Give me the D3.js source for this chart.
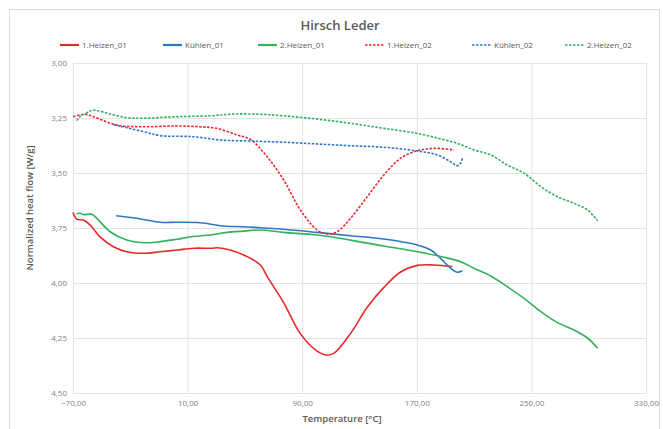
<!DOCTYPE html>
<html>
<head>
<meta charset="utf-8">
<script src="https://cdn.jsdelivr.net/npm/d3@7"></script>
<style>
  body { margin: 0; background: #fff; }
  svg text { font-family: "Open Sans", "Noto Sans", sans-serif; }
</style>
</head>
<body>
<svg id="chart" width="663" height="429"></svg>
<script>
// Series data, [temperature, heat flow]
var heizen1_01 = [[-70,3.68],[-67.4,3.71],[-62.8,3.714],[-58.1,3.736],[-51.1,3.79],[-41.8,3.835],[-32.4,3.858],[-20.8,3.865],[-9.1,3.858],[2.5,3.85],[14.1,3.842],[27,3.842],[30.5,3.84],[37.5,3.847],[49.1,3.873],[60.8,3.918],[65.5,3.97],[77.1,4.09],[88.7,4.23],[100.4,4.31],[106.2,4.327],[112,4.32],[123.7,4.23],[135.4,4.11],[147,4.02],[158.7,3.95],[170.4,3.92],[182,3.918],[194.8,3.925]];
var kuehlen_01 = [[-39.9,3.694],[-25.5,3.706],[-9.2,3.724],[2.5,3.724],[18.8,3.726],[35.1,3.741],[49.1,3.744],[60.8,3.749],[77.1,3.756],[100.4,3.77],[123.7,3.785],[147,3.8],[170.4,3.827],[179.7,3.85],[186.6,3.888],[193.6,3.933],[198.3,3.951],[201.8,3.944]];
var heizen2_01 = [[-67.4,3.686],[-65.1,3.683],[-62.8,3.689],[-56.9,3.688],[-53.4,3.706],[-44.1,3.767],[-32.4,3.805],[-20.8,3.817],[-9.2,3.812],[2.5,3.801],[14.1,3.789],[25.8,3.782],[37.5,3.77],[49.1,3.764],[60.8,3.759],[77.1,3.77],[100.4,3.782],[123.7,3.805],[147,3.832],[170.4,3.858],[189,3.883],[200.6,3.903],[209.9,3.933],[221.6,3.968],[233.3,4.017],[244.9,4.07],[256.6,4.13],[268.2,4.18],[279.9,4.214],[289.2,4.25],[296.2,4.297]];
var heizen1_02 = [[-69.8,3.244],[-61.6,3.233],[-55.8,3.244],[-39.4,3.282],[-20.8,3.29],[2.5,3.286],[18.8,3.29],[30.5,3.297],[44.5,3.327],[53.8,3.347],[65.5,3.426],[77.1,3.532],[88.7,3.668],[100.4,3.759],[107.4,3.777],[114.4,3.767],[123.7,3.706],[135.4,3.608],[147,3.509],[158.7,3.433],[170.4,3.399],[182,3.388],[196,3.395]];
var kuehlen_02 = [[-41.8,3.28],[-20.8,3.312],[-9.2,3.33],[14.1,3.335],[32.8,3.35],[53.8,3.355],[77.1,3.36],[100.4,3.368],[123.7,3.376],[147,3.383],[170.4,3.4],[184.3,3.418],[193.6,3.449],[198.3,3.467],[200.6,3.456],[201.8,3.433]];
var heizen2_02 = [[-67.5,3.262],[-65.1,3.244],[-60.4,3.226],[-55.8,3.214],[-44.1,3.232],[-32.4,3.249],[-20.8,3.251],[2.5,3.244],[25.8,3.24],[42.1,3.232],[60.8,3.233],[77.1,3.24],[100.4,3.255],[123.7,3.274],[147,3.297],[170.4,3.32],[186.6,3.345],[198.3,3.365],[209.9,3.395],[221.6,3.418],[233.3,3.464],[244.9,3.501],[256.6,3.562],[268.2,3.608],[279.9,3.638],[289.2,3.668],[296.2,3.717]];

var seriesNames = ["1.Heizen_01", "Kühlen_01", "2.Heizen_01", "1.Heizen_02", "Kühlen_02", "2.Heizen_02"];
var seriesData = [heizen1_01, kuehlen_01, heizen2_01, heizen1_02, kuehlen_02, heizen2_02];
var seriesColors = ["#e8292b", "#2f77c3", "#33b15c", "#e8292b", "#2f77c3", "#33b15c"];
var seriesDashed = [false, false, false, true, true, true];

var xTicks = [-70, 10, 90, 170, 250, 330];
var yTicks = [3.00, 3.25, 3.50, 3.75, 4.00, 4.25, 4.50];

var svg = d3.select("#chart");
var fmt = function(v) { return d3.format(".2f")(v).replace(".", ","); };

// Chart border (bottom edge falls outside the picture)
svg.append("rect")
  .attr("x", 9.5).attr("y", 9.5)
  .attr("width", 650).attr("height", 430)
  .attr("fill", "none").attr("stroke", "#d9d9d9");

var margin = {left: 73, right: 17, top: 63, bottom: 36};
var width = 663 - margin.left - margin.right;
var height = 429 - margin.top - margin.bottom;

var x = d3.scaleLinear().domain([-70, 330]).range([0, width]);
// y axis reversed: 3,00 at top
var y = d3.scaleLinear().domain([3.0, 4.5]).range([0, height]);

var g = svg.append("g")
  .attr("transform", "translate(" + margin.left + "," + margin.top + ")");

// Gridlines
g.append("g")
  .call(d3.axisLeft(y).tickValues(yTicks).tickSize(-width).tickFormat(""))
  .call(function(s) {
    s.select(".domain").remove();
    s.selectAll("line").attr("stroke", "#e3e3e3");
  });
g.append("g")
  .call(d3.axisBottom(x).tickValues(xTicks).tickSize(height).tickFormat(""))
  .call(function(s) {
    s.select(".domain").remove();
    s.selectAll("line").attr("stroke", "#e3e3e3");
  });

// Tick labels
g.append("g")
  .call(d3.axisLeft(y).tickValues(yTicks).tickSize(0).tickPadding(6).tickFormat(fmt))
  .call(function(s) {
    s.select(".domain").remove();
    s.selectAll("text").attr("fill", "#7f7f7f").style("font-size", "8px");
  });
g.append("g")
  .attr("transform", "translate(0," + height + ")")
  .call(d3.axisBottom(x).tickValues(xTicks).tickSize(0).tickPadding(7).tickFormat(fmt))
  .call(function(s) {
    s.select(".domain").remove();
    s.selectAll("text").attr("fill", "#7f7f7f").style("font-size", "8px");
  });

// Lines
var line = d3.line()
  .x(function(d) { return x(d[0]); })
  .y(function(d) { return y(d[1]); })
  .curve(d3.curveCatmullRom.alpha(0.5));

seriesData.forEach(function(data, i) {
  g.append("path")
    .datum(data)
    .attr("fill", "none")
    .attr("stroke", seriesColors[i])
    .attr("stroke-width", 1.6)
    .attr("stroke-linejoin", "round")
    .attr("stroke-dasharray", seriesDashed[i] ? "2.5,1.5" : null)
    .attr("d", line);
});

// Title
svg.append("text")
  .attr("x", 340).attr("y", 30)
  .attr("text-anchor", "middle")
  .attr("fill", "#595959")
  .style("font-size", "13px")
  .style("font-weight", "600")
  .text("Hirsch Leder");

// Axis titles
svg.append("text")
  .attr("x", 342).attr("y", 422)
  .attr("text-anchor", "middle")
  .attr("fill", "#595959")
  .style("font-size", "9.5px")
  .style("font-weight", "600")
  .text("Temperature [°C]");
svg.append("text")
  .attr("transform", "translate(33,208) rotate(-90)")
  .attr("text-anchor", "middle")
  .attr("fill", "#595959")
  .style("font-size", "9.5px")
  .style("font-weight", "600")
  .text("Normalized heat flow [W/g]");

// Legend
var legendX = [60, 163, 258, 365, 472, 565];
seriesNames.forEach(function(name, i) {
  var lg = svg.append("g").attr("transform", "translate(" + legendX[i] + ",45)");
  lg.append("line")
    .attr("x1", 0).attr("x2", 19).attr("y1", 0).attr("y2", 0)
    .attr("stroke", seriesColors[i])
    .attr("stroke-width", seriesDashed[i] ? 1.6 : 2.2)
    .attr("stroke-dasharray", seriesDashed[i] ? "2.5,1.5" : null);
  lg.append("text")
    .attr("x", 22).attr("y", 3)
    .attr("fill", "#595959")
    .style("font-size", "8px")
    .text(name);
});
</script>
</body>
</html>
